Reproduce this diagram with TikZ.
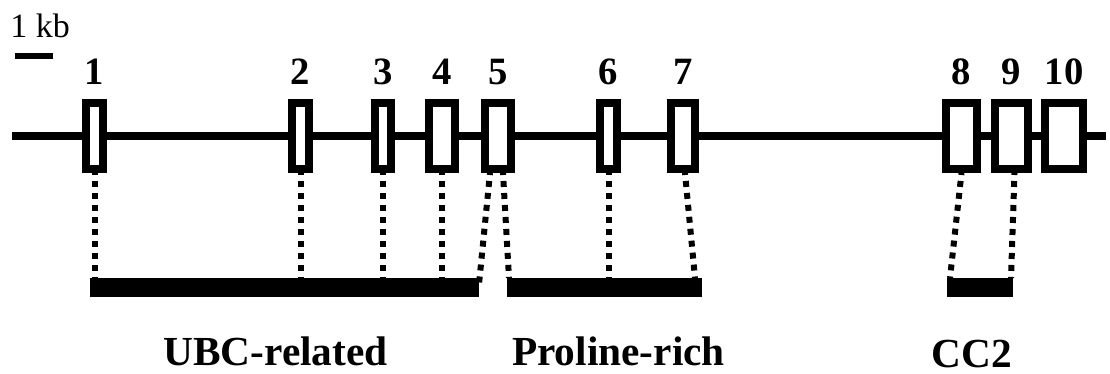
\documentclass[tikz,border=0pt]{standalone}
\usepackage{fontspec}
\setmainfont{Liberation Serif}
\usetikzlibrary{calc}

\tikzset{
   exon/.style={rectangle, draw=black, line width=6pt, fill=white,
      inner sep=0pt, minimum height=49.5pt},
   num/.style={anchor=base, inner sep=0pt,
      font=\bfseries\fontsize{29}{30}\selectfont},
   bar/.style={rectangle, fill=black, inner sep=0pt, outer sep=0pt,
      minimum height=14.25pt},
   domainlabel/.style={anchor=base, inner sep=0pt,
      font=\bfseries\fontsize{31}{33}\selectfont},
   dotline/.style={line width=4.5pt, dash pattern=on 4.5pt off 4.5pt,
      dash phase=3pt}
}

\begin{document}
\begin{tikzpicture}[x=0.75pt, y=-0.75pt]
      \useasboundingbox (0,0) rectangle (1110,374);

      \node (kb) at (10,38) [anchor=base west, inner sep=0pt,
         font=\fontsize{25.5}{27}\selectfont] {1 kb};
      \coordinate (sl) at (15,56);
      \coordinate (sr) at (53,56);
      \draw [line width=4.5pt] (sl) -- (sr);

      \coordinate (gl) at (12,136);
      \coordinate (gr) at (1106,136);
      \draw [line width=6pt] (gl) -- (gr);

      \foreach \i/\x/\w in {1/94.5/17, 2/300.5/17, 3/383/16, 4/442/26,
         5/498/26, 6/608.5/17, 7/683/24, 8/961.5/31, 9/1011.5/33,
         10/1064/38} {
         \node (e\i) at (\x,136) [exon, minimum width=\w*0.75pt] {};
         \node (n\i) at (\x,85) [num] {\i};
      }

      \node (ubc) at (284.5,287.5) [bar, minimum width=291.75pt] {};
      \node (pro) at (604.5,287.5) [bar, minimum width=146.25pt] {};
      \node (cc) at (980,287.5) [bar, minimum width=49.5pt] {};

      \draw [dotline] (e1.south) -- (e1.south |- ubc.north);
      \draw [dotline] (e2.south) -- (e2.south |- ubc.north);
      \draw [dotline] (e3.south) -- (e3.south |- ubc.north);
      \draw [dotline] (e4.south) -- (e4.south |- ubc.north);
      \draw [dotline] ($(e5.south)+(-8,0)$) -- ($(ubc.north east)+(0,6)$);
      \draw [dotline] ($(e5.south)+(5,0)$) -- ($(pro.north west)+(2,0)$);
      \draw [dotline] (e6.south) -- (e6.south |- pro.north);
      \draw [dotline] ($(e7.south)+(2,0)$) -- ($(pro.north east)+(-7,0)$);
      \draw [dotline] (e8.south) -- ($(cc.north west)+(3,0)$);
      \draw [dotline] ($(e9.south)+(3,0)$) -- ($(cc.north east)+(-2,0)$);

      \node (lubc) at (275.5,365) [domainlabel] {UBC-related};
      \node (lpro) at (618.5,365) [domainlabel] {Proline-rich};
      \node (lcc) at (972,367) [domainlabel] {CC2};
   \end{tikzpicture}
\end{document}
